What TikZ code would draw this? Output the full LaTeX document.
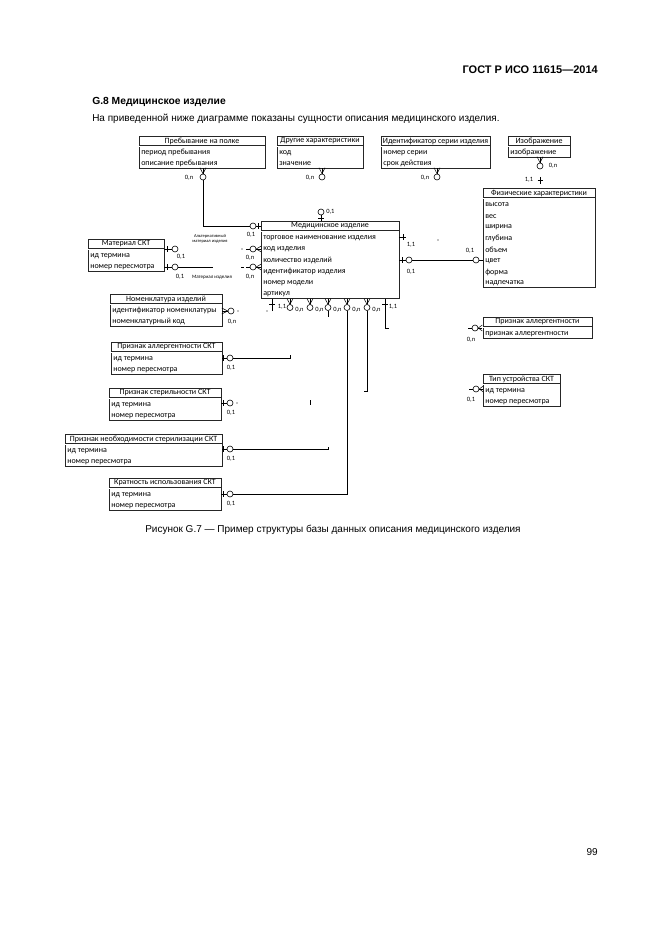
\documentclass[tikz,border=0pt]{standalone}
\usepackage{fontspec}
\setmainfont{Liberation Sans}
\newfontfamily\erfont{Carlito}
\usetikzlibrary{positioning, calc}
% entity box: name, x1, y1, x2, row height, title, attribute rows
\newcommand{\entity}[7]{%
  \node[ent head, minimum width={(#4-#2)*1pt}] (#1) at ({(#2+#4)/2},{#3+5}) {#6};
  \foreach \txt [count=\i] in {#7} {
    \node[ent row] (#1-\i) at ({#2+2},{#3+10+#5*(\i-0.5)}) {\txt};
    \xdef\entrows{\i}
  }
  \draw[ent box] (#2,#3) rectangle (#4,{#3+10+#5*\entrows});
  \draw[ent box, double, double distance=0.7pt, line width=0.4pt] (#2,{#3+10}) -- (#4,{#3+10});
  \coordinate (#1-bl) at (#2,{#3+10+#5*\entrows});
}

\begin{document}
\begin{tikzpicture}[x=1pt, y=-1pt, line width=0.5pt,
  page/.style={inner sep=0pt, font=\fontsize{10}{12}\selectfont},
  ent head/.style={font=\erfont\fontsize{8}{9}\selectfont, inner sep=0pt, minimum height=10pt},
  ent row/.style={font=\erfont\fontsize{8}{9}\selectfont, inner sep=0pt, anchor=west, yshift=-1.3pt},
  ent box/.style={line width=0.9pt, draw=black!85},
  opt/.style={circle, draw, inner sep=0pt, minimum size=6pt, line width=0.6pt},
  card/.style={font=\erfont\fontsize{6.5}{7}\selectfont, inner sep=0pt},
  note/.style={font=\erfont\fontsize{4.5}{5}\selectfont, inner sep=0pt, align=center}]
  \fill[white] (0,0) rectangle (661,936);
  \useasboundingbox (0,0) rectangle (661,936);
  % ============ page text ============
  \node[page, font=\bfseries\fontsize{11}{13}\selectfont, anchor=base east] (gost) at (598,74) {ГОСТ Р ИСО 11615—2014};
  \node[page, font=\bfseries\fontsize{10.3}{12}\selectfont, anchor=base west] (sect) at (92,105) {G.8 Медицинское изделие};
  \node[page, anchor=base west] (intro) at (92,122) {На приведенной ниже диаграмме показаны сущности описания медицинского изделия.};
  \node[page, anchor=base west] (caption) at (145,532) {Рисунок G.7 — Пример структуры базы данных описания медицинского изделия};
  \node[page, anchor=base east] (pageno) at (598,855) {99};
  % ============ entities ============
  \entity{stay}{139}{136}{265}{11}{Пребывание на полке}{период пребывания, описание пребывания}
  \entity{other}{277}{136}{363}{11}{Другие характеристики}{код, значение}
  \entity{serial}{381}{136}{490}{11}{Идентификатор серии изделия}{номер серии, срок действия}
  \entity{image}{508}{136}{570}{11}{Изображение}{изображение}
  \entity{phys}{483}{188}{595}{11.2}{Физические характеристики}{высота, вес, ширина, глубина, объем, цвет, форма, надпечатка}
  \entity{med}{261}{221}{399}{11.3}{Медицинское изделие}{торговое наименование изделия, код изделия, количество изделий, идентификатор изделия, номер модели, артикул}
  \entity{mat}{88}{239}{164}{11}{Материал СКТ}{ид термина, номер пересмотра}
  \entity{nom}{110}{294}{222}{11}{Номенклатура изделий}{идентификатор номенклатуры, номенклатурный код}
  \entity{alsk}{111}{342}{222}{11}{Признак аллергентности СКТ}{ид термина, номер пересмотра}
  \entity{ster}{109}{388}{221}{11}{Признак стерильности СКТ}{ид термина, номер пересмотра}
  \entity{neob}{65}{434}{222}{11}{Признак необходимости стерилизации СКТ}{ид термина, номер пересмотра}
  \entity{krat}{109}{478}{221}{11}{Кратность использования СКТ}{ид термина, номер пересмотра}
  \entity{alr}{483}{317}{592}{11}{Признак аллергентности}{признак аллергентности}
  \entity{tip}{483}{374}{560}{11}{Тип устройства СКТ}{ид термина, номер пересмотра}
  % ============ top row links ============
  \node[opt] (o-stay) at (203,177) {};
  \node[opt] (o-other) at (322,177) {};
  \node[opt] (o-serial) at (437,177) {};
  \node[opt] (o-image) at (540,166) {};
  \foreach \e in {o-stay,o-other,o-serial,o-image}
    \foreach \s in {-3,0,3} \draw (\e.north) -- ++(\s,-6);
  \node[card] (l-stay) at (189,178) {0,n};
  \node[card] (l-other) at (310,178) {0,n};
  \node[card] (l-serial) at (425,178) {0,n};
  \node[card] (l-image) at (553,166) {0,n};
  \node[opt] (o-mstay) at (253,226) {};
  \draw (o-stay) |- (o-mstay);
  \draw (o-mstay) -- (o-mstay -| med.west);
  \draw (o-mstay.east) ++(2,-3) -- ++(0,6);
  \node[card] (l-mstay) at (251,235) {0,1};
  \node[opt] (o-mtop) at (321,212) {};
  \draw (o-mtop) -- (o-mtop |- med.north);
  \draw (o-mtop.south) ++(-3,3) -- ++(6,0);
  \node[card, anchor=west] (l-mtop) at (326,212) {0,1};
  % ============ material links ============
  \node[opt] (o-mat1) at (175,249) {};
  \node[opt] (o-mat2) at (175,267) {};
  \foreach \m in {o-mat1,o-mat2} {
    \draw (\m) -- (\m -| mat.east);
    \draw (\m.west) ++(-4,-3) -- ++(0,6);
  }
  \coordinate (mat-end) at (213,267);
  \draw (o-mat2) -- (mat-end);
  \node[card] (l-mat1) at (181,257) {0,1};
  \node[card] (l-mat2) at (180,277) {0,1};
  \node[note] (alt) at (210,239) {Альтернативный\\материал изделия};
  \node[note, font=\erfont\fontsize{5}{6}\selectfont] (matlink) at (212,277) {Материал изделия};
  \node[opt] (o-ml1) at (253,249) {};
  \node[opt] (o-ml2) at (253,267) {};
  \foreach \m in {o-ml1,o-ml2} {
    \foreach \s in {-3,0,3} \draw (\m.east) -- ++(5,\s);
    \draw (\m.west) -- ++(-4,0);
  }
  \fill (242,249) circle (0.6);
  \draw (241,267) -- (244,267);
  \node[card] (l-ml1) at (250,258) {0,n};
  \node[card] (l-ml2) at (250,277) {0,n};
  % ============ physical links ============
  \node[opt] (o-mr) at (409,260) {};
  \node[opt] (o-pl) at (476,260) {};
  \draw (o-mr) -- (o-mr -| med.east);
  \draw (o-mr.west) ++(-3,-3) -- ++(0,6);
  \draw (o-mr) -- (o-pl);
  \draw (o-pl) -- (o-pl -| phys.west);
  \coordinate (mstub) at (406,237);
  \draw (mstub -| med.east) -- (mstub);
  \draw (mstub) ++(-3,-3) -- ++(0,6);
  \node[card] (l-mr0) at (411,245) {1,1};
  \node[card] (l-mr) at (411,272) {0,1};
  \node[card] (l-pl) at (470,251) {0,1};
  \fill (438,240) circle (0.6);
  \coordinate (pstub) at (540,177);
  \draw (pstub) -- ++(0,7);
  \draw (pstub) ++(-2.5,3) -- ++(5,0);
  \node[card] (l-pstub) at (529,180) {1,1};
  % ============ bottom links ============
  \foreach \x/\nm in {290/b1,310/b2,328/b3,347/b4,367/b5} {
    \node[opt] (o-\nm) at (\x,307.5) {};
    \foreach \s in {-3,0,3} \draw (o-\nm.north) -- ++(\s,-5.5);
    \node[card, anchor=west] (l-\nm) at ({\x+5},309.5) {0,n};
  }
  \coordinate (mb-l) at (272,311);
  \draw (mb-l) -- (mb-l |- med-bl);
  \draw (mb-l) ++(-3,-7) -- ++(6,0);
  \fill (267,311) circle (0.6);
  \node[card] (l-mbl) at (282,307) {1,1};
  \coordinate (mb-r) at (385,328);
  \draw (mb-r |- med-bl) -- (mb-r) -- ++(4,0);
  \draw (mb-r |- med-bl) ++(-3,5) -- ++(6,0);
  \node[card] (l-mbr) at (393,307) {1,1};
  \draw (o-b3.south) -- ++(0,6);
  \draw (o-b5.south) -- ++(0,80) -- ++(-3,0);
  % ============ left column links ============
  \node[opt] (o-nom) at (231,311) {};
  \foreach \s in {-3,0,3} \draw (o-nom.west) -- ++(-6,\s);
  \fill (238,311) circle (0.6);
  \node[card] (l-nom) at (232,322) {0,n};
  \foreach \nm/\y in {alsk/358, ster/403, neob/449, krat/494} {
    \node[opt] (o-\nm) at (230,\y) {};
    \draw (o-\nm) -- (o-\nm -| \nm.east);
    \draw (o-\nm.west) ++(-3,-3) -- ++(0,6);
    \node[card] (l-\nm) at (231,{\y+10}) {0,1};
  }
  \coordinate (alsk-end) at (290,358);
  \draw (o-alsk) -- (alsk-end) -- ++(0,-3);
  \fill (237,403) circle (0.6);
  \coordinate (ster-tick) at (310,400);
  \draw (ster-tick) -- ++(0,5);
  \coordinate (neob-end) at (328,449);
  \draw (o-neob) -- (neob-end) -- ++(0,-2);
  \draw (o-b4) |- (o-krat);
  % ============ right column links ============
  \node[opt] (o-alr) at (475,328) {};
  \node[opt] (o-tip) at (476,389) {};
  \foreach \m in {o-alr,o-tip} {
    \foreach \s in {-3,0,3} \draw (\m.east) -- ++(4,\s);
    \draw (\m.west) -- ++(-4,0);
  }
  \node[card] (l-alr) at (471,340) {0,n};
  \node[card] (l-tip) at (471,400) {0,1};
\end{tikzpicture}
\end{document}
